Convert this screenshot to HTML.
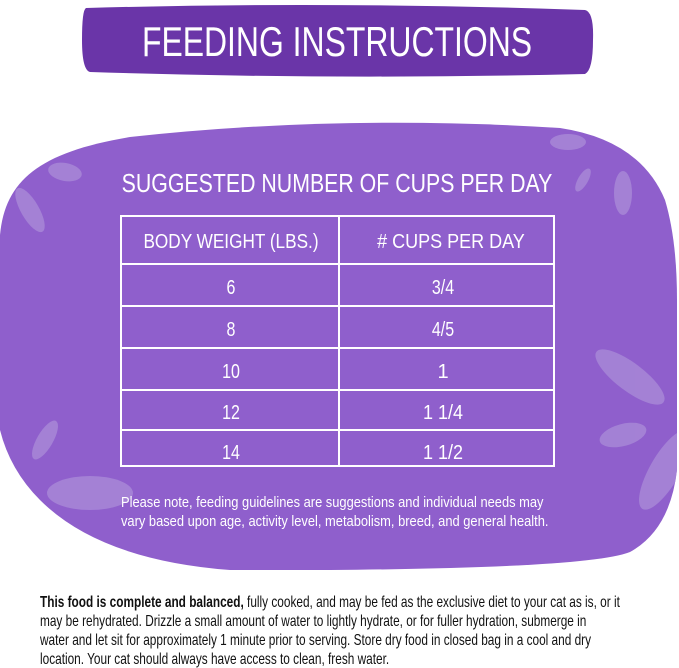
<!DOCTYPE html>
<html><head><style>
body{margin:0;width:679px;height:668px;background:#fff;overflow:hidden;position:relative;font-family:"Liberation Sans",sans-serif}
</style></head><body>
<svg width="679" height="668" style="position:absolute;left:0;top:0">
<defs><clipPath id="c"><path id="b" d="M0,235 C5,180 40,152 130,137 Q340,114 560,128 Q640,140 665,200 Q677,240 677,300 L677,470 Q670,530 630,552 Q590,568 330,570 L230,570 Q100,560 40,500 Q10,470 0,430 Z"/></clipPath></defs>
<path d="M86,8 Q330,1 585,10 Q594,12 593,40 Q593,70 585,74 Q330,80 90,72 Q82,70 82,40 Q82,10 86,8Z" fill="#6a35a8"/>
<use href="#b" fill="#8f5fcc"/>
<g fill="#a98ad8" opacity="0.8" clip-path="url(#c)">
<ellipse cx="65" cy="172" rx="17" ry="9" transform="rotate(10 65 172)"/>
<ellipse cx="30" cy="210" rx="9" ry="25" transform="rotate(-30 30 210)"/>
<ellipse cx="45" cy="440" rx="8" ry="22" transform="rotate(30 45 440)"/>
<ellipse cx="90" cy="493" rx="43" ry="17"/>
<ellipse cx="568" cy="142" rx="18" ry="8"/>
<ellipse cx="583" cy="180" rx="5" ry="13" transform="rotate(30 583 180)"/>
<ellipse cx="623" cy="193" rx="9" ry="22"/>
<ellipse cx="630" cy="377" rx="42" ry="14" transform="rotate(37 630 377)"/>
<ellipse cx="623" cy="435" rx="24" ry="11" transform="rotate(-15 623 435)"/>
<ellipse cx="665" cy="470" rx="15" ry="45" transform="rotate(30 665 470)"/>
</g>
<g stroke="#fff" stroke-width="2" fill="none">
<rect x="121" y="216" width="433" height="250"/>
<line x1="339" y1="216" x2="339" y2="466"/>
<line x1="121" y1="264" x2="554" y2="264"/>
<line x1="121" y1="306" x2="554" y2="306"/>
<line x1="121" y1="348" x2="554" y2="348"/>
<line x1="121" y1="390" x2="554" y2="390"/>
<line x1="121" y1="430" x2="554" y2="430"/>
</g>
<g fill="#fff" font-family="Liberation Sans" text-anchor="middle">
<text x="337" y="56" font-size="42" transform="translate(337 0) scale(0.76 1) translate(-337 0)">FEEDING INSTRUCTIONS</text>
<text x="337" y="192" font-size="26" transform="translate(337 0) scale(0.82 1) translate(-337 0)">SUGGESTED NUMBER OF CUPS PER DAY</text>
<g font-size="20">
<text x="231" y="248" transform="translate(231 0) scale(0.86 1) translate(-231 0)">BODY WEIGHT (LBS.)</text>
<text x="451" y="248" transform="translate(451 0) scale(0.9 1) translate(-451 0)"># CUPS PER DAY</text>
<text x="231" y="294" transform="translate(231 0) scale(0.8 1) translate(-231 0)">6</text><text x="443" y="294" transform="translate(443 0) scale(0.8 1) translate(-443 0)">3/4</text>
<text x="231" y="336" transform="translate(231 0) scale(0.8 1) translate(-231 0)">8</text><text x="443" y="336" transform="translate(443 0) scale(0.8 1) translate(-443 0)">4/5</text>
<text x="231" y="378" transform="translate(231 0) scale(0.8 1) translate(-231 0)">10</text><text x="443" y="378">1</text>
<text x="231" y="419" transform="translate(231 0) scale(0.8 1) translate(-231 0)">12</text><text x="443" y="419" transform="translate(443 0) scale(0.9 1) translate(-443 0)">1 1/4</text>
<text x="231" y="459" transform="translate(231 0) scale(0.8 1) translate(-231 0)">14</text><text x="443" y="459" transform="translate(443 0) scale(0.9 1) translate(-443 0)">1 1/2</text>
</g>
</g>
<g fill="#fff" font-size="15" font-family="Liberation Sans">
<text x="121" y="507" transform="translate(121 0) scale(0.86 1) translate(-121 0)">Please note, feeding guidelines are suggestions and individual needs may</text>
<text x="121" y="526" transform="translate(121 0) scale(0.86 1) translate(-121 0)">vary based upon age, activity level, metabolism, breed, and general health.</text>
</g>
<g fill="#111" font-size="16" font-family="Liberation Sans">
<text x="40" y="607" transform="translate(40 0) scale(0.74 1) translate(-40 0)"><tspan font-weight="bold">This food is complete and balanced,</tspan> fully cooked, and may be fed as the exclusive diet to your cat as is, or it</text>
<text x="40" y="626" transform="translate(40 0) scale(0.74 1) translate(-40 0)">may be rehydrated. Drizzle a small amount of water to lightly hydrate, or for fuller hydration, submerge in</text>
<text x="40" y="645" transform="translate(40 0) scale(0.74 1) translate(-40 0)">water and let sit for approximately 1 minute prior to serving. Store dry food in closed bag in a cool and dry</text>
<text x="40" y="664" transform="translate(40 0) scale(0.74 1) translate(-40 0)">location. Your cat should always have access to clean, fresh water.</text>
</g>
</svg>
</body></html>
